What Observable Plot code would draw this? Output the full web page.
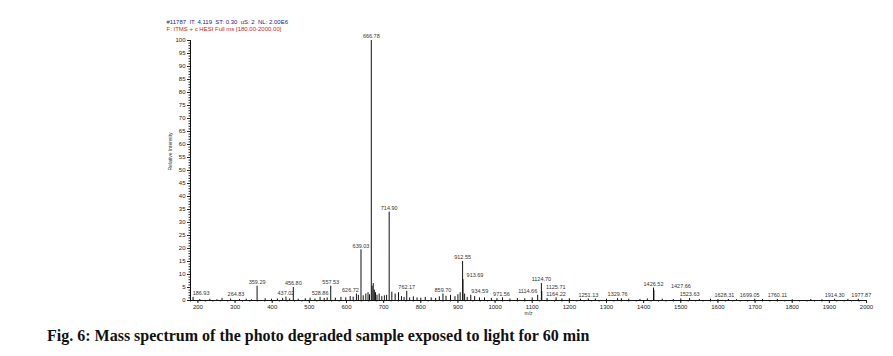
<!DOCTYPE html>
<html>
<head>
<meta charset="utf-8">
<script src="https://cdn.jsdelivr.net/npm/d3@7"></script>
<script src="https://cdn.jsdelivr.net/npm/@observablehq/plot@0.6"></script>
<style>
  body { margin: 0; background: #fff; }
  #caption { font-family: "Liberation Serif", "Times New Roman", serif; font-weight: bold; font-size: 16px; margin: 9px 0 0 47px; color: #111; }
</style>
</head>
<body>
<div id="chart"></div>
<div id="caption">Fig. 6: Mass spectrum of the photo degraded sample exposed to light for 60 min</div>
<script>
// Labelled peaks (m/z, relative intensity %)
const peakMz = [186.93, 264.83, 359.29, 437.02, 456.80, 528.86, 557.53, 626.72, 639.03, 666.78,
  714.90, 762.17, 859.70, 912.55, 913.69, 934.59, 971.56, 1114.66, 1124.70, 1125.71,
  1164.22, 1251.13, 1329.76, 1426.52, 1427.66, 1523.63, 1628.31, 1699.05, 1760.11, 1914.30, 1977.87];
const peakInt = [1.2, 0.8, 5.5, 1.3, 5.0, 1.2, 5.5, 2.5, 19.5, 100,
  34, 3.5, 2.5, 15, 8, 2, 1, 2, 6.5, 3.5,
  1, 0.6, 0.8, 4.8, 3.8, 0.8, 0.4, 0.5, 0.4, 0.5, 0.5];
const peakLabels = peakMz.map(d => d.toFixed(2));

// Unlabelled minor peaks (m/z, relative intensity %)
const minorMz = [205, 232, 251, 288, 312, 330, 344, 381, 398, 414, 428, 447, 470, 489, 502, 515, 540, 548, 570,
  585, 598, 610, 618, 632, 645, 652, 658, 662, 669, 672, 675, 678, 682, 688, 695, 702, 708, 722, 731, 740, 748,
  755, 770, 780, 790, 800, 812, 828, 840, 850, 868, 880, 892, 900, 906, 918, 925, 945, 958, 990, 1005, 1020, 1040,
  1060, 1080, 1100, 1140, 1180, 1200, 1230, 1270, 1300, 1340, 1360, 1390, 1410, 1450, 1480, 1500, 1550, 1580,
  1600, 1650, 1720, 1800, 1850, 1880, 1950];
const minorInt = [0.4, 0.5, 0.3, 0.6, 0.4, 0.5, 0.3, 0.7, 0.5, 0.6, 0.8, 0.6, 0.5, 0.7, 0.9, 0.6, 0.8, 1.0, 0.9,
  1.2, 1.0, 1.5, 1.3, 2.0, 1.8, 2.5, 3.0, 2.2, 5.5, 6.5, 4.0, 3.0, 2.0, 2.5, 1.5, 1.8, 2.0, 3.2, 2.5, 3.0, 1.5,
  1.2, 1.0, 1.4, 1.0, 0.9, 1.2, 1.0, 0.8, 1.4, 1.6, 2.0, 1.5, 2.2, 3.0, 2.5, 1.2, 1.5, 1.0, 0.8, 0.7, 1.0, 0.6,
  0.8, 0.7, 1.0, 0.8, 0.6, 0.7, 0.5, 0.6, 0.5, 0.7, 0.5, 0.4, 0.6, 0.5, 0.4, 0.6, 0.4, 0.5,
  0.4, 0.3, 0.4, 0.3, 0.4, 0.3, 0.4];

const header1 = "#11787  IT: 4.119  ST: 0.30  uS: 2  NL: 2.00E6";
const header2 = "F: ITMS + c HESI Full ms [180.00-2000.00]";
const yLabel = "Relative Intensity";
const xLabel = "m/z";

const peaks = peakMz.map((mz, i) => ({mz, int: peakInt[i], label: peakLabels[i]}));
const minors = minorMz.map((mz, i) => ({mz, int: minorInt[i]}));

// label horizontal nudges (px) to avoid overlaps, as in the original
const nudge = {"186.93": 8, "264.83": 14, "626.72": -6, "913.69": 12, "934.59": 9, "971.56": 17,
  "1114.66": -10, "1125.71": 14, "1427.66": 27, "1628.31": -4, "1699.05": -5, "1977.87": 3};

const labelMarks = peaks.map(p => Plot.text([p], {x: "mz", y: "int", text: "label", dy: -4,
  dx: nudge[p.label] || 0, fill: "#333", fontSize: 5.5}));

const font = "Liberation Sans, Arial, sans-serif";
const chart = Plot.plot({
  width: 893,
  height: 318,
  marginLeft: 190,
  marginRight: 27,
  marginTop: 40,
  marginBottom: 18,
  style: {fontFamily: font, fontSize: "6px", background: "#fff", color: "#222"},
  x: {domain: [180, 2000]},
  y: {domain: [0, 100]},
  marks: [
    Plot.ruleX(minors, {x: "mz", y1: 0, y2: "int", stroke: "#111", strokeWidth: 1}),
    Plot.ruleX(peaks, {x: "mz", y1: 0, y2: "int", stroke: "#111", strokeWidth: 1}),
    ...labelMarks,
    Plot.axisY({ticks: d3.range(0, 101, 5), tickSize: 3, tickPadding: 2, tickFormat: d => String(d), fontSize: 6, label: null}),
    Plot.axisY({ticks: d3.range(0, 101, 1), tickSize: 1.5, tickFormat: () => "", label: null}),
    Plot.axisX({ticks: d3.range(200, 2001, 100), tickSize: 3, tickPadding: 1, tickFormat: d => String(d), fontSize: 6, label: null}),
    Plot.axisX({ticks: d3.range(180, 2001, 20), tickSize: 1.5, tickFormat: () => "", label: null}),
    Plot.ruleX([180], {y1: 0, y2: 100, stroke: "#111"}),
    Plot.ruleY([0], {stroke: "#111"}),
    Plot.text([header1], {frameAnchor: "top-left", dx: -24, dy: -21, text: d => d, fill: "#1a237e", fontSize: 6, textAnchor: "start"}),
    Plot.text([header2], {frameAnchor: "top-left", dx: -24, dy: -14, text: d => d, fill: "#c62828", fontSize: 6, textAnchor: "start"}),
    Plot.text([yLabel], {frameAnchor: "left", dx: -20, rotate: -90, text: d => d, fontSize: 5, fill: "#333"}),
    Plot.text([xLabel], {frameAnchor: "bottom", dy: 14, text: d => d, fontSize: 5, fill: "#333"})
  ]
});
document.getElementById("chart").appendChild(chart);
</script>
</body>
</html>
